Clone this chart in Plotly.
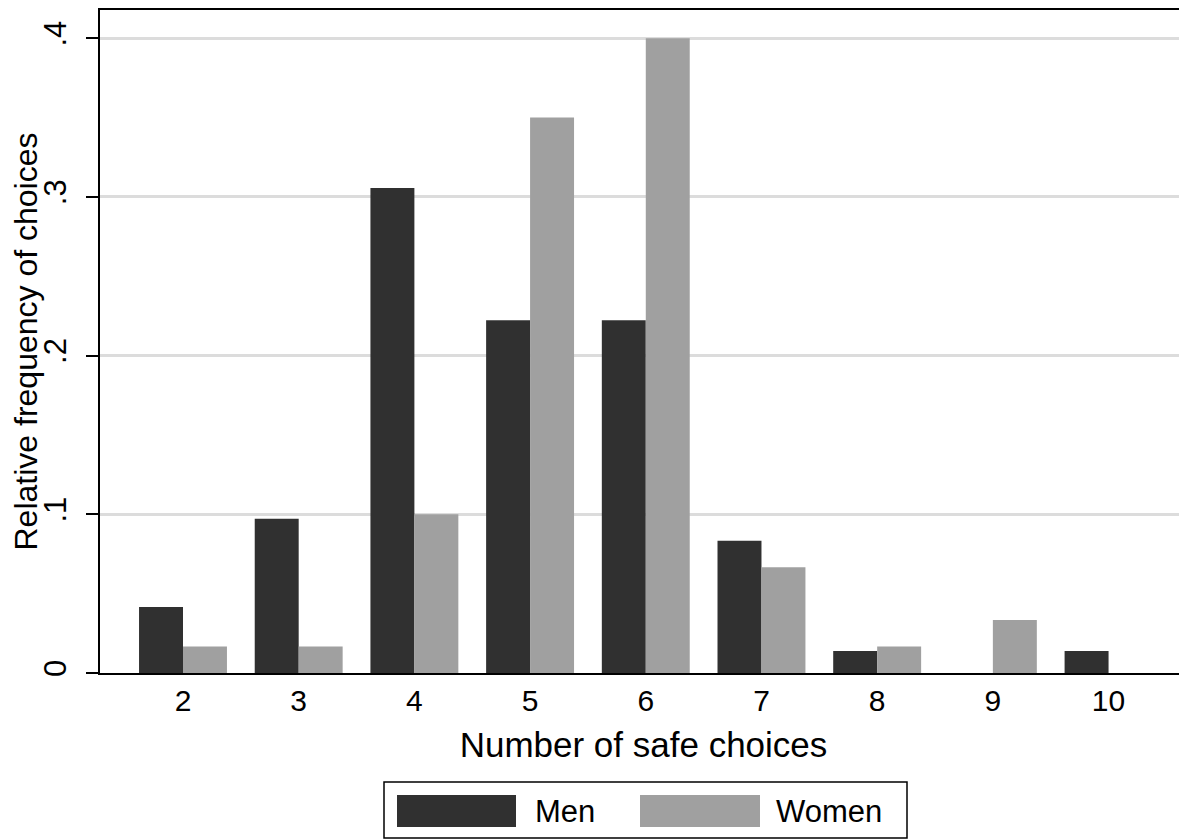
import plotly.graph_objects as go

categories = [2, 3, 4, 5, 6, 7, 8, 9, 10]
men = [3/72, 7/72, 22/72, 16/72, 16/72, 6/72, 1/72, 0, 1/72]
women = [1/60, 1/60, 6/60, 21/60, 24/60, 4/60, 1/60, 2/60, 0]
y_ticks = [0, 0.1, 0.2, 0.3, 0.4]
y_tick_labels = ["0", ".1", ".2", ".3", ".4"]
series_names = ["Men", "Women"]

# page has an 8px body margin, so the figure is drawn 8px smaller
W, H = 1179, 831
L, R, T, B = 92, 0, 2, 166
PW, PH = W - L - R, H - T - B
FONT = "Liberation Sans, Arial, Helvetica, sans-serif"
DARK = "#303030"
LIGHT = "#a0a0a0"

def px(x):
    return (x - L) / PW

def py(y):
    return (H - B - y) / PH

fig = go.Figure()
fig.add_trace(go.Bar(x=categories, y=men, name=series_names[0], marker=dict(color=DARK, line=dict(width=0))))
fig.add_trace(go.Bar(x=categories, y=women, name=series_names[1], marker=dict(color=LIGHT, line=dict(width=0))))

fig.update_layout(
    width=W, height=H,
    margin=dict(l=L, r=R, t=T, b=B, pad=0),
    paper_bgcolor="white", plot_bgcolor="white",
    barmode="group", bargap=0.24, bargroupgap=0,
    showlegend=False,
    font=dict(family=FONT, color="black"),
)
fig.update_xaxes(
    range=[1.2826, 10.678],
    tickmode="array", tickvals=categories, ticktext=[str(c) for c in categories],
    tickfont=dict(size=30), ticks="", ticklabelstandoff=0,
    showgrid=False, zeroline=False,
    showline=True, linecolor="black", linewidth=2, mirror=True,
    title=dict(text="Number of safe choices", font=dict(size=35), standoff=16),
)
fig.update_yaxes(
    range=[0, 0.4178],
    tickmode="array", tickvals=y_ticks, ticktext=y_tick_labels,
    tickangle=-90, tickfont=dict(size=31),
    ticks="outside", ticklen=12, tickwidth=2, tickcolor="black", ticklabelstandoff=8,
    showgrid=True, gridcolor="#dcdcdc", gridwidth=2.5,
    zeroline=False,
    showline=True, linecolor="black", linewidth=2,
    title=dict(text="Relative frequency of choices", font=dict(size=32), standoff=8),
)

# legend drawn as shapes + text (figure pixel positions)
shapes = [
    dict(type="rect", xref="paper", yref="paper", x0=px(376), x1=px(899), y0=py(774), y1=py(830),
         line=dict(color="black", width=1.5), fillcolor="white"),
    dict(type="rect", xref="paper", yref="paper", x0=px(389), x1=px(508), y0=py(787), y1=py(819),
         line=dict(width=0), fillcolor=DARK),
    dict(type="rect", xref="paper", yref="paper", x0=px(632), x1=px(752), y0=py(787), y1=py(819),
         line=dict(width=0), fillcolor=LIGHT),
]
annotations = [
    dict(text=series_names[0], xref="paper", yref="paper", x=px(525), y=py(803), xanchor="left", yanchor="middle",
         showarrow=False, font=dict(size=31)),
    dict(text=series_names[1], xref="paper", yref="paper", x=px(766), y=py(803), xanchor="left", yanchor="middle",
         showarrow=False, font=dict(size=31)),
]
fig.update_layout(shapes=shapes, annotations=annotations)

fig.write_html("out.html")
